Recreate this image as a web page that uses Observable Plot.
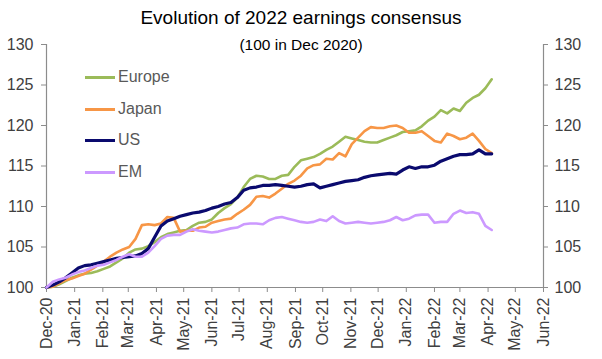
<!DOCTYPE html>
<html><head><meta charset="utf-8">
<script src="https://cdn.jsdelivr.net/npm/d3@7"></script>
<script src="https://cdn.jsdelivr.net/npm/@observablehq/plot@0.6"></script>
<style>
body{margin:0;background:#fff;}
#wrap{position:relative;width:602px;height:359px;font-family:"Liberation Sans",Arial,sans-serif;}
#title{position:absolute;left:0;width:602px;top:6px;text-align:center;font-size:19px;color:#000;line-height:23px;}
#subtitle{position:absolute;left:0;width:602px;top:36px;text-align:center;font-size:15.5px;color:#000;line-height:18px;}
.leg{position:absolute;left:85px;height:20px;display:flex;align-items:center;font-size:16px;color:#595959;}
.leg span.sw{display:inline-block;width:30px;height:3px;margin-right:3px;}
</style></head>
<body>
<div id="wrap">
  <div id="chart"></div>
  <div id="title">Evolution of 2022 earnings consensus</div>
  <div id="subtitle">(100 in Dec 2020)</div>
  <div id="legend"></div>
</div>
<script>
// Weekly observations starting at the start date
const startDate = "2020-12-01";
const seriesNames = ["Europe", "Japan", "US", "EM"];
const seriesColors = ["#9BBB59", "#F79646", "#0A0A6E", "#CC99FF"];
const seriesWidths = [2.6, 2.6, 3.2, 2.6];
const yTicks = [100, 105, 110, 115, 120, 125, 130];
const xDomain = ["2020-12-01", "2022-06-01"];

const europe = [100.0,100.1,100.4,100.8,101.2,101.5,101.7,101.8,102.0,102.3,102.6,103.1,103.6,104.3,104.7,104.8,105.1,105.6,106.2,106.6,106.8,107.0,107.1,107.6,108.0,108.1,108.4,109.2,109.8,110.3,111.1,112.4,113.4,113.8,113.7,113.4,113.4,113.8,113.9,114.9,115.7,115.9,116.1,116.5,117.0,117.4,118.0,118.6,118.4,118.2,118.0,117.9,117.9,118.2,118.5,118.8,119.2,119.3,119.4,119.9,120.6,121.1,121.9,121.5,122.1,121.8,122.8,123.4,123.8,124.6,125.7];
const japan = [100.0,100.1,100.5,100.9,101.1,101.4,101.7,102.2,102.7,103.2,103.8,104.3,104.7,105.0,106.0,107.7,107.8,107.7,107.9,108.7,108.6,106.9,107.0,107.0,107.4,107.5,108.0,108.2,108.4,108.5,109.1,109.6,110.2,111.2,111.3,111.1,111.6,112.2,112.8,113.2,113.8,114.7,115.1,115.2,115.9,115.8,116.6,116.2,117.7,118.5,119.3,119.8,119.7,119.7,119.9,120.0,119.7,119.1,119.1,119.3,118.7,118.1,117.9,119.0,118.7,118.3,118.5,119.0,118.1,117.1,116.6];
const us = [100.0,100.3,100.7,101.2,101.8,102.4,102.7,102.8,103.0,103.2,103.4,103.6,103.7,103.8,103.9,104.2,104.8,106.2,107.6,108.2,108.5,108.8,109.0,109.2,109.3,109.5,109.8,110.0,110.3,110.5,111.1,112.0,112.3,112.4,112.6,112.6,112.7,112.6,112.5,112.4,112.5,112.7,112.8,112.3,112.5,112.7,112.9,113.1,113.2,113.3,113.6,113.8,113.9,114.0,114.1,114.0,114.5,114.9,114.7,114.9,114.9,115.1,115.6,115.9,116.2,116.4,116.4,116.5,117.0,116.5,116.5];
const em = [100.0,100.7,101.0,101.2,101.6,101.9,102.1,102.4,102.7,102.8,103.1,103.4,103.8,104.1,103.8,103.8,104.3,105.1,106.0,106.4,106.5,106.5,106.9,107.2,107.0,106.9,106.8,106.9,107.1,107.3,107.4,107.8,107.9,107.9,107.8,108.3,108.6,108.7,108.5,108.3,108.1,108.0,108.1,108.4,108.2,108.8,108.2,107.9,108.0,108.1,108.0,107.9,108.0,108.1,108.3,108.7,108.3,108.5,108.9,109.0,109.0,108.0,108.1,108.1,109.1,109.5,109.2,109.3,109.1,107.6,107.1];

const seriesValues = [europe, japan, us, em];
const start = new Date(startDate);
const dates = europe.map((_, i) => d3.utcDay.offset(start, 7 * i));
const x0 = new Date(xDomain[0]), x1 = new Date(xDomain[1]);
const monthTicks = d3.utcMonth.range(x0, d3.utcDay.offset(x1, 1));
const fmt = d3.utcFormat("%b-%y");

const lineMarks = seriesNames.map((name, s) => {
  const rows = seriesValues[s].map((v, i) => ({date: dates[i], value: v}));
  return Plot.line(rows, {x: "date", y: "value", stroke: seriesColors[s], strokeWidth: seriesWidths[s], strokeLinejoin: "round"});
});

const plot = Plot.plot({
  width: 602, height: 359,
  marginLeft: 46, marginRight: 59, marginTop: 44, marginBottom: 72,
  style: {fontFamily: "'Liberation Sans', Arial, sans-serif", fontSize: "16px", color: "#404040", background: "transparent"},
  x: {type: "utc", domain: [x0, x1]},
  y: {domain: [100, 130]},
  marks: [
    Plot.ruleY([100], {stroke: "#8c8c8c", strokeWidth: 1.2}),
    Plot.ruleX([x0, x1], {stroke: "#8c8c8c", strokeWidth: 1.2}),
    Plot.axisY({anchor: "left", ticks: yTicks, tickSize: 5, tickPadding: 8, stroke: "#8c8c8c", label: null, tickFormat: d => d}),
    Plot.axisY({anchor: "right", ticks: yTicks, tickSize: 4, tickPadding: 7, stroke: "#8c8c8c", label: null, tickFormat: d => d}),
    Plot.axisX({ticks: monthTicks, tickFormat: fmt, tickRotate: -90, tickSize: 5, tickPadding: 5, stroke: "#8c8c8c", label: null}),
    ...lineMarks
  ]
});
document.getElementById("chart").appendChild(plot);

const legendTops = [77, 109, 140, 172];
const legend = document.getElementById("legend");
seriesNames.forEach((name, s) => {
  const d = document.createElement("div");
  d.className = "leg";
  d.style.top = (legendTops[s] - 10) + "px";
  d.innerHTML = `<span class="sw" style="background:${seriesColors[s]}"></span>${name}`;
  legend.appendChild(d);
});
</script>
</body></html>
